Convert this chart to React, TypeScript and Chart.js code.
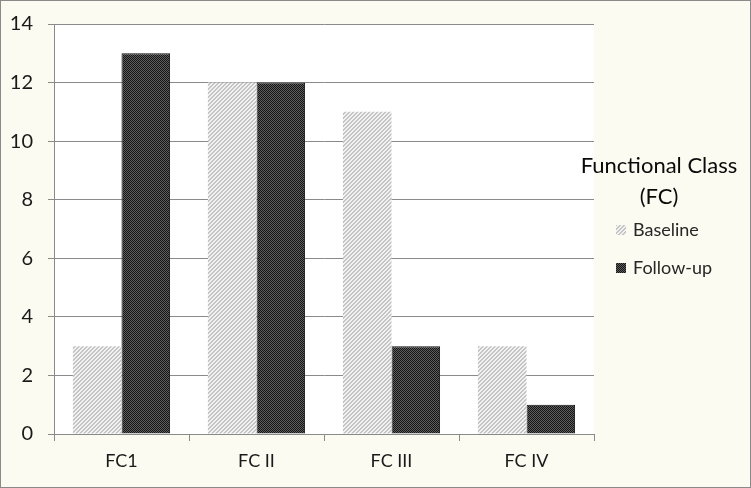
import React, { useEffect, useRef } from "react";
import { Chart, registerables } from "chart.js";

Chart.register(...registerables);

const categories = ["FC1", "FC II", "FC III", "FC IV"];
const baseline = [3, 12, 11, 3];
const followUp = [13, 12, 3, 1];
const yTicks = [0, 2, 4, 6, 8, 10, 12, 14];
const legendTitle = ["Functional Class", "(FC)"];
const seriesNames = ["Baseline", "Follow-up"];

const FONT = 'Lato, "Open Sans", sans-serif';

function makeStripe(ctx: CanvasRenderingContext2D): CanvasPattern | string {
  const c = document.createElement("canvas");
  c.width = 4;
  c.height = 4;
  const g = c.getContext("2d")!;
  for (let x = 0; x < 4; x++) {
    for (let y = 0; y < 4; y++) {
      g.fillStyle = (x + y) % 4 < 2 ? "#c4c4c4" : "#f2f2f2";
      g.fillRect(x, y, 1, 1);
    }
  }
  return ctx.createPattern(c, "repeat") || "#d0d0d0";
}

function makeChecker(ctx: CanvasRenderingContext2D): CanvasPattern | string {
  const c = document.createElement("canvas");
  c.width = 2;
  c.height = 2;
  const g = c.getContext("2d")!;
  for (let x = 0; x < 2; x++) {
    for (let y = 0; y < 2; y++) {
      g.fillStyle = (x + y) % 2 === 0 ? "#151515" : "#5e5e5e";
      g.fillRect(x, y, 1, 1);
    }
  }
  return ctx.createPattern(c, "repeat") || "#222";
}

export default function App() {
  const ref = useRef<HTMLCanvasElement>(null);
  useEffect(() => {
    const canvas = ref.current!;
    const ctx = canvas.getContext("2d")!;
    const stripe = makeStripe(ctx);
    const checker = makeChecker(ctx);

    const bgPlugin = {
      id: "bg",
      beforeDraw(chart: any) {
        const c = chart.ctx;
        const { left, top, right, bottom } = chart.chartArea;
        c.save();
        c.fillStyle = "#fbfbf1";
        c.fillRect(0, 0, chart.width, chart.height);
        c.fillStyle = "#ffffff";
        c.fillRect(left, top, right - left, bottom - top);
        c.strokeStyle = "#8a8a8a";
        c.lineWidth = 1;
        c.strokeRect(0.5, 0.5, chart.width - 1, chart.height - 1);
        c.restore();
      },
      afterDraw(chart: any) {
        const c = chart.ctx;
        c.save();
        c.fillStyle = "#0a0a0a";
        c.textAlign = "center";
        c.textBaseline = "middle";
        c.font = `22px ${FONT}`;
        c.fillText(legendTitle[0], 659, 166);
        c.fillText(legendTitle[1], 659, 197);
        const fills = [stripe, checker];
        const ys = [230, 268];
        c.font = `18px ${FONT}`;
        c.textAlign = "left";
        for (let i = 0; i < 2; i++) {
          c.fillStyle = fills[i];
          c.fillRect(616, ys[i] - 5, 10, 10);
          c.fillStyle = "#262626";
          c.fillText(seriesNames[i], 633, ys[i]);
        }
        c.restore();
      },
    };

    const chart = new Chart(canvas, {
      type: "bar",
      data: {
        labels: categories,
        datasets: [
          {
            label: seriesNames[0],
            data: baseline,
            backgroundColor: stripe as any,
            borderWidth: 0,
            categoryPercentage: 0.72,
            barPercentage: 1,
          },
          {
            label: seriesNames[1],
            data: followUp,
            backgroundColor: checker as any,
            borderColor: "#111",
            borderWidth: 1,
            borderSkipped: "bottom",
            categoryPercentage: 0.72,
            barPercentage: 1,
          },
        ],
      },
      options: {
        responsive: false,
        animation: false,
        layout: { padding: { left: 0, right: 157, top: 24, bottom: 0 } },
        plugins: {
          legend: { display: false },
          tooltip: { enabled: false },
        },
        scales: {
          x: {
            grid: {
              offset: true,
              drawOnChartArea: false,
              drawTicks: true,
              tickLength: 7,
              color: "#8a8a8a",
            },
            border: { color: "#8a8a8a" },
            ticks: {
              color: "#1a1a1a",
              font: { size: 18, family: FONT },
              padding: 9,
            },
            afterFit(scale: any) {
              scale.height = 54;
              scale.paddingLeft = 0;
              scale.paddingRight = 0;
            },
          },
          y: {
            min: 0,
            max: 14,
            afterBuildTicks(scale: any) {
              scale.ticks = yTicks.map((v) => ({ value: v }));
            },
            grid: {
              color: "#8a8a8a",
              tickLength: 6,
            },
            border: { color: "#8a8a8a" },
            ticks: {
              color: "#1a1a1a",
              font: { size: 20, family: FONT },
              padding: 15,
            },
            afterFit(scale: any) {
              scale.width = 54;
              scale.paddingTop = 0;
              scale.paddingBottom = 0;
            },
          },
        },
      },
      plugins: [bgPlugin],
    });
    return () => chart.destroy();
  }, []);

  return (
    <div style={{ position: "absolute", left: 0, top: 0, width: 751, height: 488 }}>
      <canvas ref={ref} width={751} height={488} style={{ display: "block", width: 751, height: 488 }} />
    </div>
  );
}
